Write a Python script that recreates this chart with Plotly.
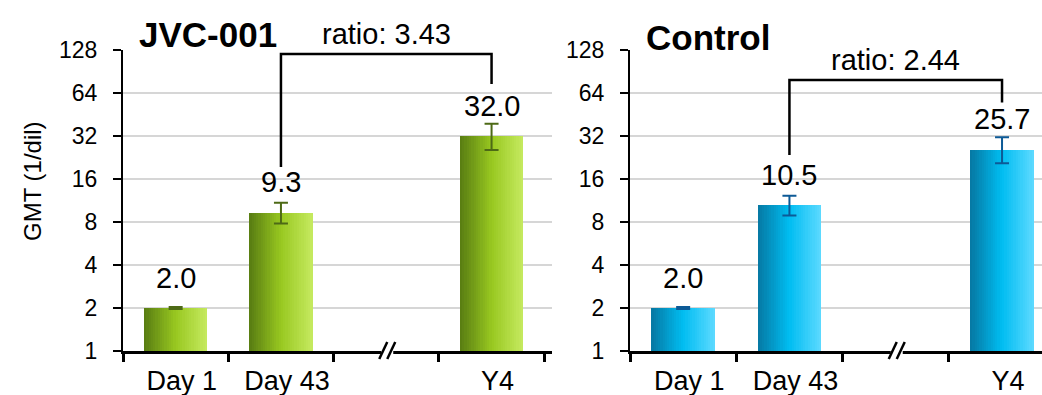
import plotly.graph_objects as go
import numpy as np

# ---- data -------------------------------------------------------------
categories = ["Day 1", "Day 43", " ", "Y4"]
bar_categories = ["Day 1", "Day 43", "Y4"]

jvc_gmt = [2.0, 9.3, 32.0]
jvc_err_plus = [0.03, 1.6, 7.0]
jvc_err_minus = [0.03, 1.5, 6.5]
jvc_ratio = 3.43

ctl_gmt = [2.0, 10.5, 25.7]
ctl_err_plus = [0.03, 1.7, 5.6]
ctl_err_minus = [0.03, 1.6, 5.1]
ctl_ratio = 2.44

y_ticks = [1, 2, 4, 8, 16, 32, 64, 128]

panel_titles = ["JVC-001", "Control"]
y_title = "GMT (1/dil)"

# bracket geometry in data units (left leg bottom, top, right leg bottom)
jvc_bracket = [19.4, 120, 74]
ctl_bracket = [23.6, 79, 55]

# ---- style ------------------------------------------------------------
FONT = "Liberation Sans, Arial, sans-serif"
green_stops = [(0.0, (88, 124, 18)), (0.5, (152, 200, 32)), (1.0, (198, 234, 96))]
blue_stops = [(0.0, (6, 120, 162)), (0.5, (0, 189, 242)), (1.0, (94, 218, 255))]
green_err = "#4d6a16"
blue_err = "#0d5a96"
BAR_W = 0.6
N_STRIPS = 28
label_shift = [11, 3, 0]


def grad_color(stops, t):
    for (t0, c0), (t1, c1) in zip(stops[:-1], stops[1:]):
        if t0 <= t <= t1:
            f = (t - t0) / (t1 - t0)
            c = [round(a + (b - a) * f) for a, b in zip(c0, c1)]
            return f"rgb({c[0]},{c[1]},{c[2]})"
    c = stops[-1][1]
    return f"rgb({c[0]},{c[1]},{c[2]})"


fig = go.Figure()

panels = [
    dict(xa="x", ya="y", gmt=jvc_gmt, ep=jvc_err_plus, em=jvc_err_minus,
         stops=green_stops, ecol=green_err, ratio=jvc_ratio, br=jvc_bracket),
    dict(xa="x2", ya="y2", gmt=ctl_gmt, ep=ctl_err_plus, em=ctl_err_minus,
         stops=blue_stops, ecol=blue_err, ratio=ctl_ratio, br=ctl_bracket),
]

annotations = []
shapes = []

for p_i, p in enumerate(panels):
    # bars drawn as narrow vertical strips to give a horizontal gradient
    sw = BAR_W / N_STRIPS
    for s in range(N_STRIPS):
        fig.add_trace(go.Bar(
            x=bar_categories, y=p["gmt"],
            offset=-BAR_W / 2 + s * sw, width=sw * 1.25 if s < N_STRIPS - 1 else sw,
            marker=dict(color=grad_color(p["stops"], (s + 0.5) / N_STRIPS), line=dict(width=0)),
            xaxis=p["xa"], yaxis=p["ya"], showlegend=False, hoverinfo="skip",
        ))
    # error bars
    fig.add_trace(go.Scatter(
        x=bar_categories, y=p["gmt"], mode="markers",
        marker=dict(size=1, opacity=0),
        error_y=dict(type="data", array=p["ep"], arrayminus=p["em"],
                     color=p["ecol"], thickness=2, width=7),
        xaxis=p["xa"], yaxis=p["ya"], showlegend=False, hoverinfo="skip",
    ))
    # comparison bracket
    fig.add_trace(go.Scatter(
        x=["Day 43", "Day 43", "Y4", "Y4"],
        y=[p["br"][0], p["br"][1], p["br"][1], p["br"][2]],
        mode="lines", line=dict(color="black", width=2.5),
        xaxis=p["xa"], yaxis=p["ya"], showlegend=False, hoverinfo="skip",
        cliponaxis=False,
    ))
    # value labels
    for k, (cat, v, e) in enumerate(zip(bar_categories, p["gmt"], p["ep"])):
        annotations.append(dict(
            x=cat, y=np.log10(v + e), xref=p["xa"], yref=p["ya"],
            text=f"{v:.1f}", showarrow=False, yanchor="bottom",
            yshift=label_shift[k], font=dict(size=29, color="black", family=FONT),
        ))
    # ratio label above the bracket
    annotations.append(dict(
        x=2, y=np.log10(p["br"][1]), xref=p["xa"], yref=p["ya"],
        text=f"ratio: {p['ratio']:.2f}", showarrow=False, yanchor="bottom",
        yshift=2, font=dict(size=29, color="black", family=FONT),
    ))
    # panel title
    annotations.append(dict(
        x=0.033, y=1.0, xref=f"{p['xa']} domain", yref=f"{p['ya']} domain",
        text=f"<b>{panel_titles[p_i]}</b>", showarrow=False,
        xanchor="left", yanchor="bottom", yshift=-6 - 3 * p_i,
        font=dict(size=35, color="black", family=FONT),
    ))
    # axis break marker on the x axis
    common = dict(xref=p["xa"], yref=f"{p['ya']} domain", xsizemode="pixel",
                  ysizemode="pixel", xanchor=2, yanchor=0, layer="above")
    shapes.append(dict(type="rect", x0=-5, x1=7, y0=-6, y1=6,
                       fillcolor="white", line=dict(width=0), **common))
    shapes.append(dict(type="line", x0=-7, x1=1, y0=-8, y1=9,
                       line=dict(color="black", width=2.5), **common))
    shapes.append(dict(type="line", x0=1, x1=9, y0=-8, y1=9,
                       line=dict(color="black", width=2.5), **common))

# shared y-axis title, set a little above the vertical centre of the plot
annotations.append(dict(
    x=32 / 1042, y=1 - 181 / 395, xref="paper", yref="paper",
    text=y_title, textangle=-90, showarrow=False,
    xanchor="center", yanchor="middle",
    font=dict(size=24, color="black", family=FONT),
))

xaxis_common = dict(
    type="category", categoryorder="array", categoryarray=categories,
    tickson="boundaries", showline=True, linecolor="black", linewidth=3,
    ticks="outside", ticklen=8, tickwidth=3, tickcolor="black",
    showgrid=False, zeroline=False, ticklabelshift=6, ticklabelstandoff=4,
    automargin=False, tickfont=dict(size=27, color="black", family=FONT),
    fixedrange=True,
)
yaxis_common = dict(
    type="log", range=[0, np.log10(128)], tickmode="array",
    tickvals=y_ticks, ticktext=[str(t) for t in y_ticks],
    showline=True, linecolor="black", linewidth=2,
    ticks="outside", ticklen=8, tickwidth=2, tickcolor="black",
    showgrid=True, gridcolor="#d6d6d6", gridwidth=1.5, zeroline=False,
    tickfont=dict(size=23, color="black", family=FONT), automargin=False,
    ticklabelstandoff=11, domain=[44 / 395, 345 / 395], fixedrange=True,
)

fig.update_layout(
    width=1042, height=395,
    margin=dict(l=0, r=0, t=0, b=0),
    paper_bgcolor="white", plot_bgcolor="white",
    barmode="overlay", bargap=0,
    showlegend=False,
    font=dict(family=FONT, color="black"),
    xaxis=dict(xaxis_common, domain=[123 / 1042, 552 / 1042], range=[-0.5, 3.574], anchor="y"),
    yaxis=dict(yaxis_common, anchor="x"),
    xaxis2=dict(xaxis_common, domain=[630 / 1042, 1.0], range=[-0.5, 3.376], anchor="y2"),
    yaxis2=dict(yaxis_common, anchor="x2"),
    annotations=annotations,
    shapes=shapes,
)

fig.write_html("out.html")
